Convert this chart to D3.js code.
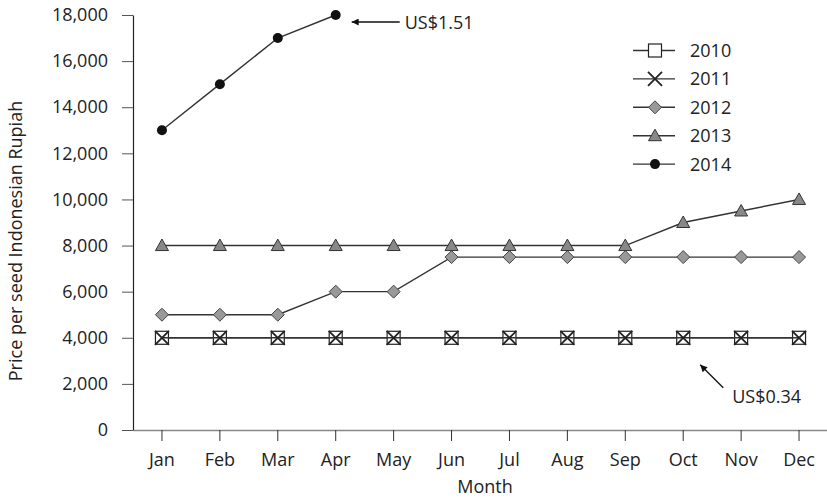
<!DOCTYPE html>
<html>
<head>
<meta charset="utf-8">
<script src="https://cdn.jsdelivr.net/npm/d3@7"></script>
<style>
    body { margin: 0; background: #fff; }
    svg text { font-family: "Open Sans", "Noto Sans", sans-serif; fill: #222; }
</style>
</head>
<body>
<svg id="chart" width="827" height="498"></svg>
<script>
'use strict';

const months = ['Jan', 'Feb', 'Mar', 'Apr', 'May', 'Jun', 'Jul', 'Aug', 'Sep', 'Oct', 'Nov', 'Dec'];
const yTicks = [0, 2000, 4000, 6000, 8000, 10000, 12000, 14000, 16000, 18000];
const years = ['2010', '2011', '2012', '2013', '2014'];
const values2010 = [4000, 4000, 4000, 4000, 4000, 4000, 4000, 4000, 4000, 4000, 4000, 4000];
const values2011 = [4000, 4000, 4000, 4000, 4000, 4000, 4000, 4000, 4000, 4000, 4000, 4000];
const values2012 = [5000, 5000, 5000, 6000, 6000, 7500, 7500, 7500, 7500, 7500, 7500, 7500];
const values2013 = [8000, 8000, 8000, 8000, 8000, 8000, 8000, 8000, 8000, 9000, 9500, 10000];
const values2014 = [13000, 15000, 17000, 18000];
const notes = [
    { text: 'US$1.51', month: 'Apr', value: 18000 },
    { text: 'US$0.34', month: 'Oct', value: 4000 }
];

const series = [
    { name: years[0], values: values2010, marker: 'square' },
    { name: years[1], values: values2011, marker: 'cross' },
    { name: years[2], values: values2012, marker: 'diamond' },
    { name: years[3], values: values2013, marker: 'triangle' },
    { name: years[4], values: values2014, marker: 'circle' }
];

const svg = d3.select('#chart');
const plot = { left: 133, right: 828, top: 15, bottom: 430 };
const fs = 18;

const x = d3.scaleBand().domain(months).range([plot.left, plot.right]);
const y = d3.scaleLinear().domain([0, 18000]).range([plot.bottom, plot.top]);
const cx = m => x(m) + x.bandwidth() / 2;

// axes
const xAxis = svg.append('g')
    .attr('transform', `translate(0,${plot.bottom})`)
    .call(d3.axisBottom(x).tickSize(11).tickPadding(12).tickSizeOuter(0));
xAxis.select('.domain').attr('stroke', '#888').attr('stroke-width', 1.5);
xAxis.selectAll('.tick line').attr('stroke', '#333');
xAxis.selectAll('.tick text').attr('font-size', fs).attr('font-family', '"Open Sans", sans-serif').attr('fill', '#222');

const yAxis = svg.append('g')
    .attr('transform', `translate(${plot.left},0)`)
    .call(d3.axisLeft(y).tickValues(yTicks).tickFormat(d3.format(',')).tickSize(11).tickPadding(14).tickSizeOuter(0));
yAxis.select('.domain').attr('stroke', '#222').attr('stroke-width', 1.2);
yAxis.selectAll('.tick line').attr('stroke', '#555');
yAxis.selectAll('.tick text').attr('font-size', fs).attr('font-family', '"Open Sans", sans-serif').attr('fill', '#222');

svg.append('text')
    .attr('x', 485).attr('y', 493)
    .attr('text-anchor', 'middle').attr('font-size', fs)
    .text('Month');

svg.append('text')
    .attr('transform', 'translate(22,241) rotate(-90)')
    .attr('text-anchor', 'middle').attr('font-size', fs)
    .text('Price per seed Indonesian Rupiah');

// markers
function drawMarker(g, kind, px, py){
    if (kind === 'square') {
        g.append('rect').attr('x', px - 6.5).attr('y', py - 6.5).attr('width', 13).attr('height', 13)
            .attr('fill', '#fff').attr('stroke', '#222').attr('stroke-width', 1.2);
    } else if (kind === 'cross') {
        g.append('path').attr('d', `M${px - 7},${py - 7}L${px + 7},${py + 7}M${px - 7},${py + 7}L${px + 7},${py - 7}`)
            .attr('stroke', '#222').attr('stroke-width', 1.8).attr('fill', 'none');
    } else if (kind === 'diamond') {
        g.append('path').attr('d', `M${px},${py - 6.5}L${px + 6.5},${py}L${px},${py + 6.5}L${px - 6.5},${py}Z`)
            .attr('fill', '#999').attr('stroke', '#444').attr('stroke-width', 1);
    } else if (kind === 'triangle') {
        g.append('path').attr('d', `M${px},${py - 6.5}L${px + 6.5},${py + 5}L${px - 6.5},${py + 5}Z`)
            .attr('fill', '#888').attr('stroke', '#333').attr('stroke-width', 1);
    } else {
        g.append('circle').attr('cx', px).attr('cy', py).attr('r', 5).attr('fill', '#111');
    }
}

const line = d3.line().x((d, i) => cx(months[i])).y(d => y(d));

series.forEach(s => {
    const g = svg.append('g');
    g.append('path').datum(s.values)
        .attr('d', line).attr('fill', 'none')
        .attr('stroke', '#333').attr('stroke-width', 1.4);
    s.values.forEach((v, i) => drawMarker(g, s.marker, cx(months[i]), y(v)));
});

// legend
const legend = svg.append('g');
series.forEach((s, i) => {
    const ly = 50.5 + i * 28.4;
    legend.append('line').attr('x1', 633).attr('x2', 675).attr('y1', ly).attr('y2', ly)
        .attr('stroke', '#333').attr('stroke-width', 1.4);
    drawMarker(legend, s.marker, 655, ly);
    legend.append('text').attr('x', 690).attr('y', ly + 6.5).attr('font-size', fs).text(s.name);
});

// annotations
svg.append('defs').append('marker')
    .attr('id', 'head').attr('viewBox', '0 0 10 10').attr('refX', 10).attr('refY', 5)
    .attr('markerWidth', 11).attr('markerHeight', 7).attr('orient', 'auto-start-reverse')
    .attr('markerUnits', 'userSpaceOnUse')
    .append('path').attr('d', 'M0,0L10,5L0,10Z').attr('fill', '#111');

const n1 = notes[0], n2 = notes[1];
const p1x = cx(n1.month), p1y = y(n1.value);
svg.append('line').attr('x1', p1x + 64).attr('y1', p1y + 7).attr('x2', p1x + 16).attr('y2', p1y + 7)
    .attr('stroke', '#111').attr('stroke-width', 1.3).attr('marker-end', 'url(#head)');
svg.append('text').attr('x', p1x + 69).attr('y', p1y + 14).attr('font-size', fs).text(n1.text);

const p2x = cx(n2.month), p2y = y(n2.value);
svg.append('line').attr('x1', p2x + 40).attr('y1', p2y + 50).attr('x2', p2x + 17).attr('y2', p2y + 27)
    .attr('stroke', '#111').attr('stroke-width', 1.3).attr('marker-end', 'url(#head)');
svg.append('text').attr('x', p2x + 49).attr('y', p2y + 65).attr('font-size', fs).text(n2.text);
</script>
</body>
</html>
